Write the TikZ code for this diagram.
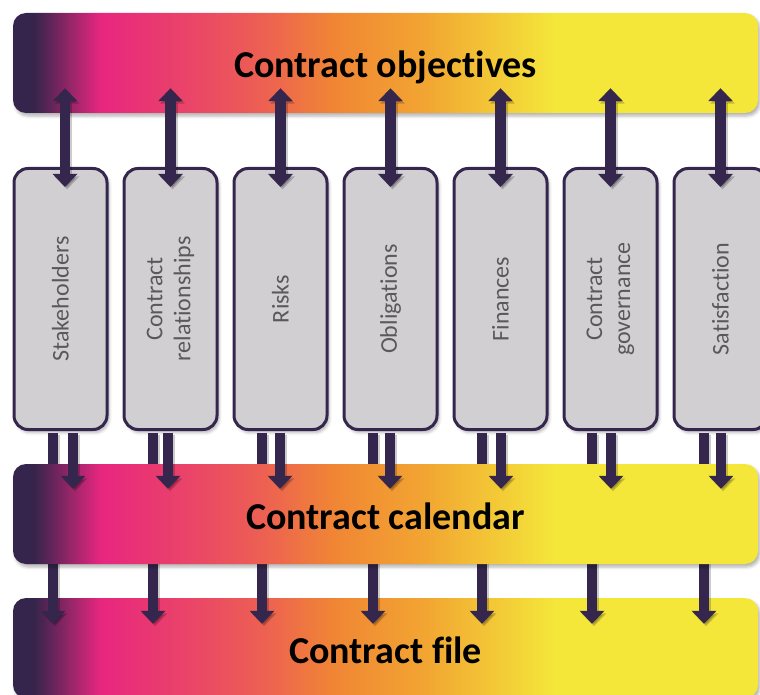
\documentclass[tikz,border=0pt]{standalone}
\usepackage{fontspec}
\setmainfont[Ligatures=NoCommon]{Carlito}
\usetikzlibrary{arrows.meta,calc,shadows.blur}

\definecolor{ink}{HTML}{35264E}
\definecolor{boxgray}{HTML}{D1CFD2}
\definecolor{labelgray}{HTML}{595959}
\definecolor{cdark}{HTML}{35254C}
\definecolor{cmag}{HTML}{E8267F}
\definecolor{ccoral}{HTML}{EA4A64}
\definecolor{cred}{HTML}{ED6052}
\definecolor{corange}{HTML}{F08634}
\definecolor{camber}{HTML}{F2A532}
\definecolor{cyellow}{HTML}{F4E73A}

% left-to-right colour run shared by the three bands (25bp..75bp spans the band)
\pgfdeclarehorizontalshading{bandgrad}{100bp}{%
  color(0bp)=(cdark); color(26.4bp)=(cdark); color(30.9bp)=(cmag);
  color(37.8bp)=(ccoral); color(41.8bp)=(cred); color(46.6bp)=(corange);
  color(52.6bp)=(camber); color(61.5bp)=(cyellow); color(100bp)=(cyellow)}

\tikzset{
  band/.style={rounded corners=13pt, minimum width=745pt, minimum height=100pt,
    inner sep=0pt, shading=bandgrad, text=black,
    text height=30pt, text depth=0pt,
    font=\bfseries\fontsize{38}{44}\selectfont,
    blur shadow={shadow xshift=2pt, shadow yshift=-3pt,
      shadow blur radius=3pt, shadow opacity=30}},
  areabox/.style={rounded corners=14pt, draw=ink, line width=3pt, fill=boxgray,
    minimum width=93pt, minimum height=261pt, inner sep=0pt,
    blur shadow={shadow xshift=2pt, shadow yshift=-3pt,
      shadow blur radius=3pt, shadow opacity=30}},
  arealabel/.style={rotate=90, align=center, text=labelgray,
    font=\fontsize{24}{28}\selectfont},
  tip/.tip={Triangle[width=24pt,length=13pt]},
  flow/.style={draw=ink, line width=10.5pt, -tip},
  flowboth/.style={draw=ink, line width=10.5pt, tip-tip},
  flowshade/.style={draw=black, opacity=0.2,
    transform canvas={shift={(2pt,-2.5pt)}}},
}

\begin{document}
\begin{tikzpicture}[x=1pt,y=-1pt]
\clip (0,0) rectangle (760,695);

% objectives band and the seven subject boxes
\node[band] (obj) at (385.5,63) {Contract objectives};
\foreach \i/\txt in {1/Stakeholders, 2/Contract\\relationships, 3/Risks,
    4/Obligations, 5/Finances, 6/Contract\\governance, 7/Satisfaction}{
  \node[areabox] (b\i) at ({60.5+110*(\i-1)},299) {};
  \node[arealabel] (t\i) at (b\i.center) {\txt};
}

% objectives <-> box
\foreach \i/\dt in {1/4.5, 2/0, 3/0, 4/0, 5/0, 6/0, 7/0}{
  \draw[flowboth, flowshade] ($(b\i.north |- obj.south)+(\dt,-25)$) -- ($(b\i.north)+(\dt,20)$);
  \draw[flowboth] ($(b\i.north |- obj.south)+(\dt,-25)$) -- ($(b\i.north)+(\dt,20)$);
}

% file band, reached by the long arrows that pass behind the calendar band
\node[band] (file) at (385.5,648) {Contract file};
\foreach \i/\dl in {1/-7.5, 2/-17.5, 3/-18.5, 4/-17.5, 5/-18.5, 6/-18.5, 7/-16.5}{
  \draw[flow, flowshade] ($(b\i.south)+(\dl,1.5)$) -- ($(b\i.south |- file.north)+(\dl,26)$);
  \draw[flow] ($(b\i.south)+(\dl,1.5)$) -- ($(b\i.south |- file.north)+(\dl,26)$);
}

% calendar band and box -> calendar arrows
\node[band] (cal) at (385.5,514) {Contract calendar};
\foreach \i/\ds in {1/12.5, 2/-2.5, 3/-0.5, 4/-0.5, 5/0.5, 6/0.5, 7/0.5}{
  \draw[flow, flowshade] ($(b\i.south)+(\ds,1.5)$) -- ($(b\i.south |- cal.north)+(\ds,25)$);
  \draw[flow] ($(b\i.south)+(\ds,1.5)$) -- ($(b\i.south |- cal.north)+(\ds,25)$);
}
\end{tikzpicture}
\end{document}
